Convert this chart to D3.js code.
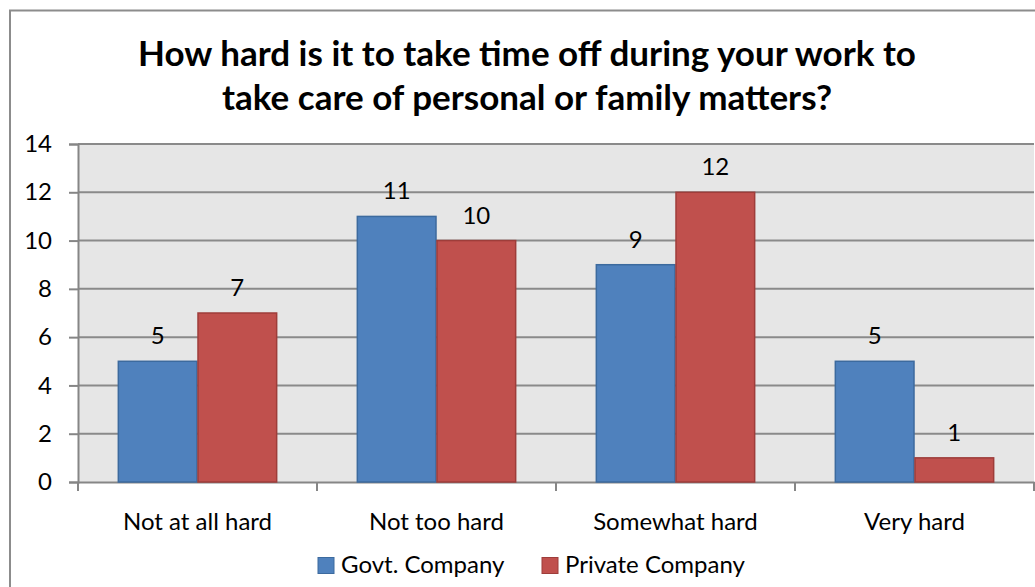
<!DOCTYPE html>
<html><head><meta charset="utf-8">
<script src="https://cdn.jsdelivr.net/npm/d3@7"></script>
<style>body{margin:0;background:#fff}svg{display:block}</style>
</head><body>
<svg id="c" width="1035" height="587"></svg>
<script>
const categories = ["Not at all hard", "Not too hard", "Somewhat hard", "Very hard"];
const seriesNames = ["Govt. Company", "Private Company"];
const govt = [5, 11, 9, 5];
const priv = [7, 10, 12, 1];
const yTicks = [0, 2, 4, 6, 8, 10, 12, 14];
const titleLines = ["How hard is it to take time off during your work to", "take care of personal or family matters?"];
const colors = ["#4F81BD", "#C0504D"];
const strokes = ["#3C6A9E", "#9E3D3A"];

const font = "Lato, 'Open Sans', sans-serif";
const fs = 24;
const svg = d3.select("#c");
svg.append("rect").attr("x", 10).attr("y", 10.5).attr("width", 1040).attr("height", 600)
  .attr("fill", "#fff").attr("stroke", "#8c8c8c").attr("stroke-width", 2);

const L = 78, R = 1034, T = 144, B = 482;
const x0 = d3.scaleBand().domain(categories).range([L, R]).paddingInner(0).paddingOuter(0);
const x1 = d3.scaleBand().domain(seriesNames).range([0, x0.bandwidth()]).paddingInner(0).paddingOuter(0.5);
const y = d3.scaleLinear().domain([0, 14]).range([B, T]);

svg.append("rect").attr("x", L).attr("y", T).attr("width", R - L).attr("height", B - T).attr("fill", "#E6E6E6");

svg.append("g").selectAll("line").data(yTicks.filter(d => d > 0)).join("line")
  .attr("x1", L).attr("x2", R).attr("y1", d => y(d)).attr("y2", d => y(d))
  .attr("stroke", "#8a8a8a").attr("stroke-width", 2);

const yAxis = svg.append("g").attr("transform", `translate(${L},0)`)
  .call(d3.axisLeft(y).tickValues(yTicks).tickSize(9).tickPadding(17).tickFormat(d3.format("d")));
yAxis.select(".domain").attr("stroke", "#868686").attr("stroke-width", 2);
yAxis.selectAll(".tick line").attr("stroke", "#868686").attr("stroke-width", 2);
yAxis.selectAll("text").attr("font-family", font).attr("font-size", fs).attr("fill", "#000");

const xAxis = svg.append("g").attr("transform", `translate(0,${B})`)
  .call(d3.axisBottom(x0).tickSize(0).tickPadding(31));
xAxis.select(".domain").attr("stroke", "#868686").attr("stroke-width", 2);
xAxis.selectAll("text").attr("font-family", font).attr("font-size", fs).attr("fill", "#000");
svg.append("g").selectAll("line").data(d3.range(categories.length + 1)).join("line")
  .attr("x1", i => L + i * x0.bandwidth()).attr("x2", i => L + i * x0.bandwidth())
  .attr("y1", B).attr("y2", B + 9).attr("stroke", "#868686").attr("stroke-width", 2);

const rows = categories.map((c, i) => ({cat: c, vals: [govt[i], priv[i]]}));
const g = svg.append("g").selectAll("g").data(rows).join("g")
  .attr("transform", d => `translate(${x0(d.cat)},0)`);
g.selectAll("rect").data(d => d.vals.map((v, j) => ({v, s: seriesNames[j], j}))).join("rect")
  .attr("x", d => x1(d.s) + 0.5).attr("width", x1.bandwidth() - 1)
  .attr("y", d => y(d.v)).attr("height", d => B - y(d.v))
  .attr("fill", d => colors[d.j]).attr("stroke", d => strokes[d.j]).attr("stroke-width", 1.5);
g.selectAll("text").data(d => d.vals.map((v, j) => ({v, s: seriesNames[j], j}))).join("text")
  .attr("x", d => x1(d.s) + x1.bandwidth() / 2).attr("y", d => y(d.v) - 17)
  .attr("text-anchor", "middle").attr("font-family", font).attr("font-size", fs).text(d => d.v);

svg.append("g").selectAll("text").data(titleLines).join("text")
  .attr("x", 527).attr("y", (d, i) => 66 + i * 44).attr("text-anchor", "middle")
  .attr("font-family", font).attr("font-weight", "bold").attr("font-size", 35).text(d => d);

const legX = [318, 542];
const leg = svg.append("g").selectAll("g").data(seriesNames).join("g")
  .attr("transform", (d, i) => `translate(${legX[i]},557.5)`);
leg.append("rect").attr("width", 16).attr("height", 16).attr("fill", (d, i) => colors[i]).attr("stroke", (d, i) => strokes[i]);
leg.append("text").attr("x", 23).attr("y", 15).attr("font-family", font).attr("font-size", fs).text(d => d);
</script>
</body></html>
